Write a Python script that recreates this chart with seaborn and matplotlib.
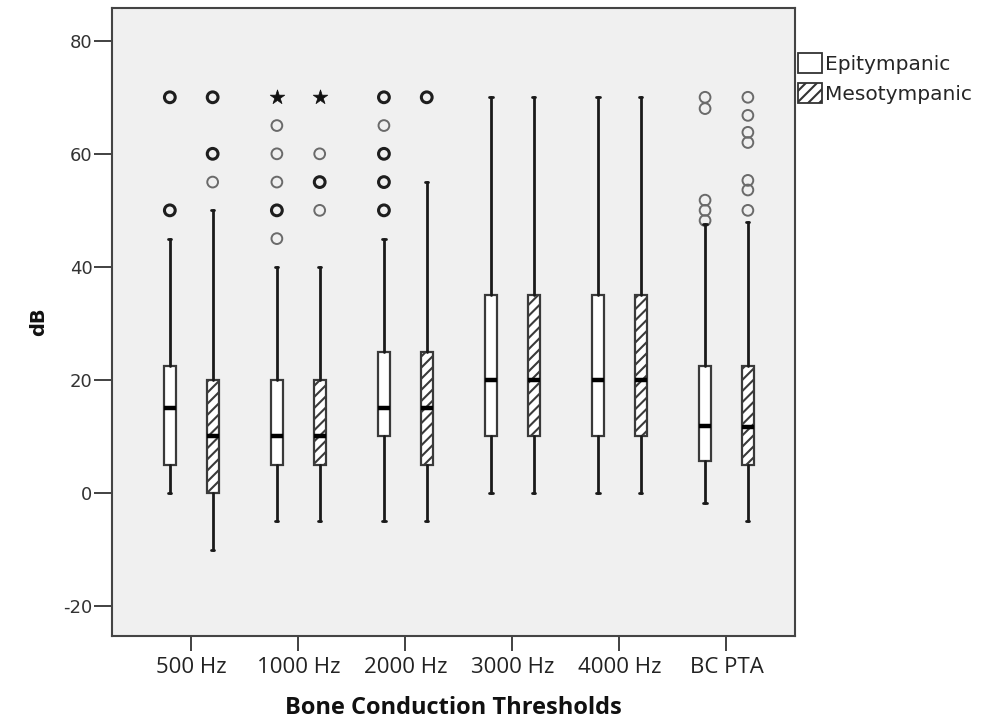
import matplotlib
matplotlib.use("Agg")
import matplotlib.pyplot as plt
from matplotlib.patches import Patch
import seaborn as sns
import pandas as pd
import numpy as np

# ---------------- data ----------------
categories = ["500 Hz", "1000 Hz", "2000 Hz", "3000 Hz", "4000 Hz", "BC PTA"]
groups = ["Epitympanic", "Mesotympanic"]

epi_whislo = [0, -5, -5, 0, 0, -1.8]
epi_q1 = [5, 5, 10, 10, 10, 5.7]
epi_med = [15, 10, 15, 20, 20, 11.9]
epi_q3 = [22.5, 20, 25, 35, 35, 22.5]
epi_whishi = [45, 40, 45, 70, 70, 47.5]

meso_whislo = [-10, -5, -5, 0, 0, -5]
meso_q1 = [0, 5, 5, 10, 10, 5]
meso_med = [10, 10, 15, 20, 20, 11.6]
meso_q3 = [20, 20, 25, 35, 35, 22.5]
meso_whishi = [50, 40, 55, 70, 70, 48]

# outliers: category, group, value, kind
out_cat = ["500 Hz"] * 2 + ["500 Hz"] * 3 \
    + ["1000 Hz"] * 6 + ["1000 Hz"] * 4 \
    + ["2000 Hz"] * 5 + ["2000 Hz"] * 1 \
    + ["BC PTA"] * 5 + ["BC PTA"] * 7
out_group = ["Epitympanic"] * 2 + ["Mesotympanic"] * 3 \
    + ["Epitympanic"] * 6 + ["Mesotympanic"] * 4 \
    + ["Epitympanic"] * 5 + ["Mesotympanic"] * 1 \
    + ["Epitympanic"] * 5 + ["Mesotympanic"] * 7
out_val = [70, 50, 70, 60, 55,
           70, 65, 60, 55, 50, 45, 70, 60, 55, 50,
           70, 65, 60, 55, 50, 70,
           70, 68, 51.8, 50, 48.2,
           70, 66.8, 63.8, 62, 55.3, 53.6, 50]
out_kind = ["bold", "bold", "bold", "bold", "light",
            "star", "light", "light", "light", "bold", "light", "star", "light", "bold", "light",
            "bold", "light", "bold", "bold", "bold", "bold",
            "light", "light", "light", "light", "light",
            "light", "light", "light", "light", "light", "light", "light"]

# ---------------- figure ----------------
sns.set_theme(style="white")
plt.rcParams["font.family"] = ["DejaVu Sans"]
plt.rcParams["hatch.linewidth"] = 1.5
plt.rcParams["hatch.color"] = "#333333"

fig = plt.figure(figsize=(10.02, 7.24), dpi=100)
ax = fig.add_axes([0.1118, 0.1215, 0.6816, 0.8675])
ax.set_facecolor("#F0F0F0")

offset = 0.2
width = 0.11
xpos = np.arange(len(categories))

def make_stats(lo, q1, med, q3, hi):
    return [dict(whislo=a, q1=b, med=c, q3=d, whishi=e, fliers=[])
            for a, b, c, d, e in zip(lo, q1, med, q3, hi)]

box_common = dict(widths=width, showfliers=False, patch_artist=True,
                  whiskerprops=dict(color="#1a1a1a", lw=2.0),
                  capprops=dict(color="#1a1a1a", lw=2.0),
                  medianprops=dict(color="black", lw=3.2, solid_capstyle="butt"))

ax.bxp(make_stats(epi_whislo, epi_q1, epi_med, epi_q3, epi_whishi),
       positions=xpos - offset,
       boxprops=dict(facecolor="white", edgecolor="#3a3a3a", lw=1.6),
       capwidths=0.03, **box_common)
ax.bxp(make_stats(meso_whislo, meso_q1, meso_med, meso_q3, meso_whishi),
       positions=xpos + offset,
       boxprops=dict(facecolor="white", edgecolor="#3a3a3a", lw=1.6, hatch="///"),
       capwidths=0.03, **box_common)

# outliers
df = pd.DataFrame({"cat": out_cat, "group": out_group, "val": out_val, "kind": out_kind})
df["x"] = df["cat"].map({c: i for i, c in enumerate(categories)}) + \
    df["group"].map({groups[0]: -offset, groups[1]: offset})

sub = df[df.kind == "bold"]
sns.scatterplot(data=sub, x="x", y="val", ax=ax, marker="o", s=60,
                facecolor="none", edgecolor="#1e1e1e", linewidth=2.2, legend=False)
sub = df[df.kind == "light"]
sns.scatterplot(data=sub, x="x", y="val", ax=ax, marker="o", s=60,
                facecolor="none", edgecolor="#6a6a6a", linewidth=1.4, legend=False)
sub = df[df.kind == "star"]
sns.scatterplot(data=sub, x="x", y="val", ax=ax, marker="*", s=120,
                color="#111111", edgecolor="#111111", linewidth=0.5, legend=False)

# axes
ax.set_xlim(-0.74, 5.64)
ax.set_ylim(-25.3, 85.8)
ax.set_xticks(xpos)
ax.set_xticklabels(categories, fontsize=16, family="Open Sans", color="#222222")
ax.set_yticks([-20, 0, 20, 40, 60, 80])
ax.set_yticklabels(["-20", "0", "20", "40", "60", "80"], fontsize=13, color="#333333")
ax.tick_params(axis="y", direction="out", length=13, width=1.3, color="#333333",
               left=True, pad=1)
ax.tick_params(axis="x", direction="out", length=11, width=1.3, color="#333333",
               bottom=True, pad=4)
for s in ax.spines.values():
    s.set_color("#444444")
    s.set_linewidth(1.5)
ax.set_xlabel("Bone Conduction Thresholds", fontsize=17, fontweight="bold",
              family="Open Sans", labelpad=13, color="#111111")
ax.set_ylabel("dB", fontsize=14, fontweight="bold", labelpad=11, color="#111111")
ax.grid(False)

handles = [Patch(facecolor="white", edgecolor="#333333", lw=1.3, label=groups[0]),
           Patch(facecolor="white", edgecolor="#333333", lw=1.3, hatch="///", label=groups[1])]
ax.legend(handles=handles, loc="upper left", bbox_to_anchor=(1.004, 0.928),
          frameon=False, fontsize=14.5, handlelength=1.2, handleheight=1.15,
          handletextpad=0.15, borderaxespad=0, borderpad=0, labelspacing=0.45)

fig.savefig("out.png", dpi=100)
